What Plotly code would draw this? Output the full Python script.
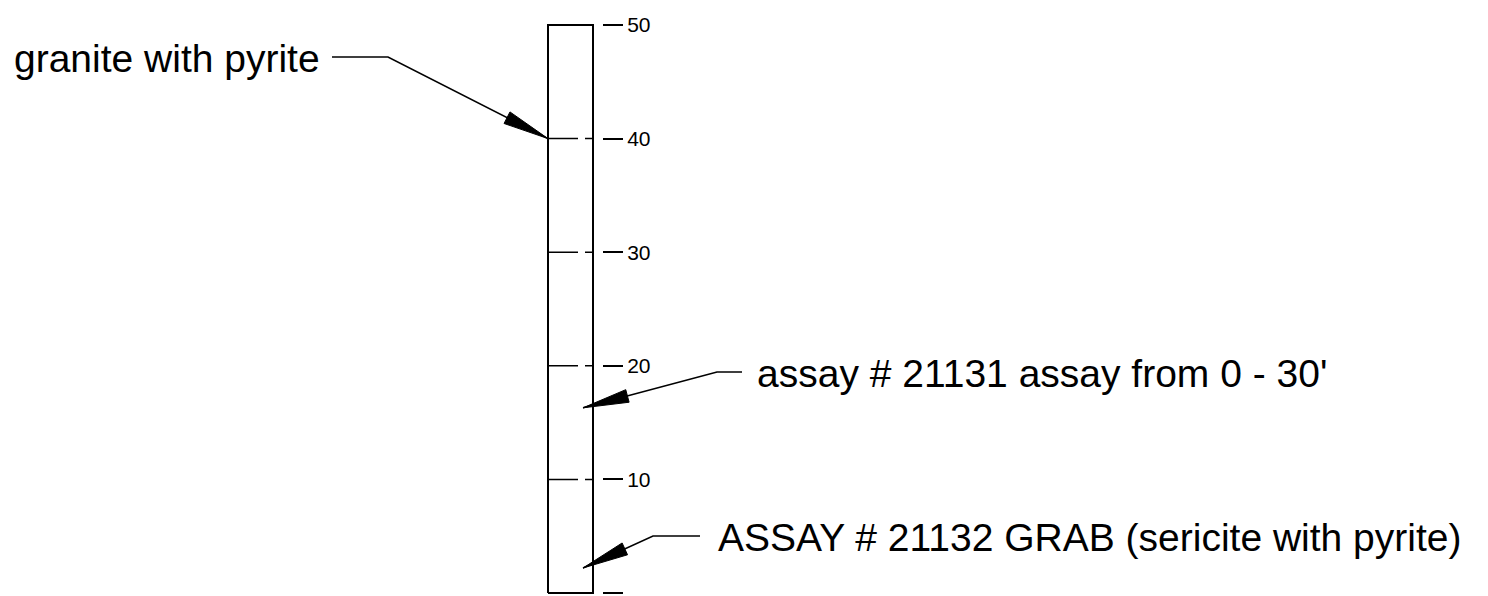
import numpy as np
import plotly.graph_objects as go

# ---- data ----
depth_ticks = [0, 10, 20, 30, 40, 50]
tick_labels = ["0", "10", "20", "30", "40", "50"]
interval_lines = [10, 20, 30, 40]
column_top = 50
column_bottom = 0
note_texts = ["granite with pyrite",
              "assay # 21131 assay from 0 - 30'",
              "ASSAY # 21132 GRAB (sericite with pyrite)"]
note_depths = [40, 16.3, 2.2]

# ---- layout geometry (pixels) ----
W, H = 1488, 596
Y0_PX, Y50_PX = 593, 25
PPF = (Y0_PX - Y50_PX) / 50.0
def ft(py):
    return (Y0_PX - py) / PPF
def px(f):
    return Y0_PX - f * PPF

COL_L, COL_R = 548, 593
FONT = "Arial, Liberation Sans, sans-serif"

fig = go.Figure()

# column outline
fig.add_trace(go.Scatter(
    x=[COL_L, COL_L, COL_R, COL_R, COL_L],
    y=[column_bottom, column_top, column_top, column_bottom, column_bottom],
    mode="lines", line=dict(color="black", width=2), hoverinfo="skip"))

# dashed interval lines
for d in interval_lines:
    fig.add_trace(go.Scatter(x=[COL_L, COL_R], y=[d, d], mode="lines",
                             line=dict(color="black", width=1.5, dash="30px,7px"),
                             hoverinfo="skip"))

# annotation leaders (text-end, bend, tip) in pixel space; tips from note_depths
leaders = [
    dict(start=(332, 57), bend=(388, 57), tip=(COL_L, px(note_depths[0])),
         text_x=12, text_y=58),
    dict(start=(742, 372), bend=(717, 372), tip=(583, px(note_depths[1])),
         text_x=755, text_y=373),
    dict(start=(700, 536), bend=(653, 536), tip=(583, px(note_depths[2])),
         text_x=716, text_y=537),
]
L_HEAD, W_HEAD = 46, 6.5
for i, ld in enumerate(leaders):
    sx, sy = ld["start"]; bx, by = ld["bend"]; tx, ty = ld["tip"]
    fig.add_trace(go.Scatter(x=[sx, bx, tx], y=[ft(sy), ft(by), ft(ty)],
                             mode="lines", line=dict(color="black", width=1.6),
                             hoverinfo="skip"))
    d = np.array([tx - bx, ty - by], dtype=float)
    d /= np.linalg.norm(d)
    n = np.array([-d[1], d[0]])
    c = np.array([tx, ty]) - L_HEAD * d
    p1 = c + W_HEAD * n
    p2 = c - W_HEAD * n
    xs = [tx, p1[0], p2[0], tx]
    ys = [ft(ty), ft(p1[1]), ft(p2[1]), ft(ty)]
    fig.add_trace(go.Scatter(x=xs, y=ys, mode="lines", fill="toself",
                             fillcolor="black", line=dict(color="black", width=1),
                             hoverinfo="skip"))
    fig.add_annotation(x=ld["text_x"], y=ft(ld["text_y"]), xref="x", yref="y",
                       text=note_texts[i], showarrow=False, xanchor="left",
                       yanchor="middle", font=dict(family=FONT, size=39, color="black"))

fig.update_layout(
    width=W, height=H, margin=dict(l=0, r=0, t=0, b=0),
    paper_bgcolor="white", plot_bgcolor="white", showlegend=False,
    xaxis=dict(range=[0, W], visible=False, fixedrange=True),
    yaxis=dict(range=[ft(H), ft(0)], anchor="free", position=602 / W, side="right",
               tickvals=depth_ticks, ticktext=tick_labels, ticks="outside",
               ticklen=20, tickwidth=2, tickcolor="black", showline=False,
               showgrid=False, zeroline=False,
               tickfont=dict(family=FONT, size=21, color="black"), fixedrange=True),
)

fig.write_html("out.html", config={"displayModeBar": False},
               post_script="document.body.style.margin='0';document.body.style.overflow='hidden';")
